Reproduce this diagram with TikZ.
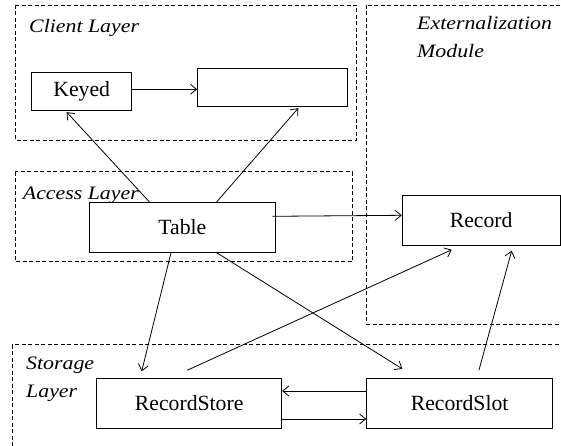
\documentclass[tikz,border=0pt]{standalone}
\usepackage{fontspec}
\setmainfont{Liberation Serif}
\newfontfamily\layerfont{Liberation Serif}[FakeStretch=1.15]
\usetikzlibrary{arrows.meta,positioning}
\tikzset{
  every node/.style={
    font=\fontsize{21.7}{26}\selectfont
  },
  layer/.style={
    draw,
    dash pattern=on 4pt off 2.5pt,
    line width=0.9pt
  },
  layer label/.style={
    anchor=base west,
    inner sep=0pt,
    align=left,
    font=\layerfont\itshape\fontsize{19}{28}\selectfont
  },
  component/.style={
    shape=rectangle,
    draw,
    line width=0.9pt,
    inner sep=0pt,
    text centered,
    minimum height=50pt
  },
  link/.style={
    -{Straight Barb[length=6pt,width=10pt]},
    line width=0.8pt
  }
}

\begin{document}
\begin{tikzpicture}[x=1pt,y=-1pt]
\useasboundingbox (0,0) rectangle (561,446);

\draw [layer] (15,5) rectangle (356.7,140);
\draw [layer] (366.5,5) rectangle (570,324);
\draw [layer] (15,171.7) rectangle (352.3,261.7);
\draw [layer] (12.3,344.7) rectangle (570,460);

\node [layer label] (client label) at (29,33) {Client Layer};
\node [layer label] (ext label) at (417,57.5) {Externalization\\Module};
\node [layer label] (access label) at (22.7,199.5) {Access Layer};
\node [layer label] (storage label) at (26,397) {Storage\\Layer};

\node [component, minimum width=100pt, minimum height=38pt] (keyed) at (81.7,91.7) {Keyed};
\node [component, minimum width=150pt, minimum height=38pt] (api) at (272.5,87.2) {};
\node [component, minimum width=186pt] (table) at (182.3,227.3) {Table};
\node [component, minimum width=158pt] (record) at (481.2,220.3) {Record};
\node [component, minimum width=185pt] (recordstore) at (189.2,403.3) {RecordStore};
\node [component, minimum width=186pt, right=84pt of recordstore] (recordslot) {RecordSlot};

\draw [link] ([yshift=2.4pt]keyed.east) -- ([yshift=-2.1pt]api.west);
\draw [link] ([xshift=-33pt]table.north) -- ([xshift=-15pt,yshift=-1pt]keyed.south);
\draw [link] ([xshift=34.4pt]table.north) -- ([xshift=25.8pt,yshift=-1.5pt]api.south);
\draw [link] ([xshift=-3.5pt,yshift=11pt]table.east) -- ([yshift=5pt]record.west);
\draw [link] ([xshift=-11.3pt]table.south) -- ([xshift=-47.5pt,yshift=6.6pt]recordstore.north);
\draw [link] ([xshift=34.4pt]table.south) -- ([xshift=-57.3pt,yshift=9pt]recordslot.north);
\draw [link] ([xshift=-2pt,yshift=7.6pt]recordstore.north) -- ([xshift=-29.5pt,yshift=-4pt]record.south);
\draw [link] ([xshift=19.3pt,yshift=7.6pt]recordslot.north) -- ([xshift=30.5pt,yshift=-5pt]record.south);
\draw [link] ([yshift=12.3pt]recordslot.west) -- ([yshift=12.3pt]recordstore.east);
\draw [link] ([yshift=-15.7pt]recordstore.east) -- ([yshift=-15.7pt]recordslot.west);

\end{tikzpicture}
\end{document}
